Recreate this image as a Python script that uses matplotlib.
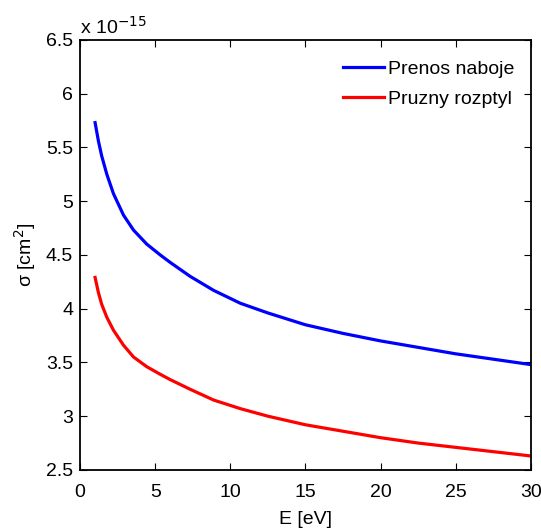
import matplotlib
matplotlib.use("Agg")
import matplotlib.pyplot as plt

# energies [eV] and cross sections [x 1e-15 cm^2]
E = [1.0, 1.22, 1.44, 1.78, 2.22, 2.89, 3.56, 4.44, 5.33, 6.0, 7.33, 8.89,
     10.67, 12.5, 15, 17.5, 20, 22.5, 25, 27.5, 30]
prenos = [5.73, 5.56, 5.42, 5.25, 5.07, 4.87, 4.73, 4.60, 4.50, 4.43, 4.30, 4.17,
          4.05, 3.96, 3.85, 3.77, 3.70, 3.64, 3.58, 3.53, 3.48]
pruzny = [4.29, 4.15, 4.04, 3.92, 3.80, 3.66, 3.55, 3.46, 3.39, 3.34, 3.25, 3.15,
          3.07, 3.00, 2.92, 2.86, 2.80, 2.75, 2.71, 2.67, 2.63]

x_ticks = [0, 5, 10, 15, 20, 25, 30]
y_ticks = [2.5, 3, 3.5, 4, 4.5, 5, 5.5, 6, 6.5]

plt.rcParams['font.family'] = ['Liberation Sans', 'DejaVu Sans']

fig = plt.figure(figsize=(5.41, 5.31), dpi=100)
ax = fig.add_axes([0.148, 0.115, 0.833, 0.810])

ax.plot(E, prenos, color="#0000ff", lw=2.3, label="Prenos naboje")
ax.plot(E, pruzny, color="#ff0000", lw=2.3, label="Pruzny rozptyl")

ax.set_xlim(0, 30)
ax.set_ylim(2.5, 6.5)
ax.set_xticks(x_ticks)
ax.set_yticks(y_ticks)
ax.set_yticklabels([("%g" % v) for v in y_ticks])
ax.tick_params(direction="in", top=True, right=True, labelsize=14, length=5, width=0.8)
ax.tick_params(axis="x", pad=10)
ax.tick_params(axis="y", pad=5)
for s in ax.spines.values():
    s.set_linewidth(1.3)

ax.set_xlabel("E [eV]", fontsize=14, labelpad=7)
ax.set_ylabel("σ [cm$^2$]", fontsize=14, labelpad=6)
ax.text(0.0, 1.005, "x 10$^{-15}$", transform=ax.transAxes, fontsize=14, ha="left", va="bottom")

ax.legend(loc="upper right", bbox_to_anchor=(1.0, 0.99), frameon=False, fontsize=14,
          handlelength=2.1, handletextpad=0.25, borderaxespad=0.42, labelspacing=0.65)

fig.savefig("out.png", dpi=100)
